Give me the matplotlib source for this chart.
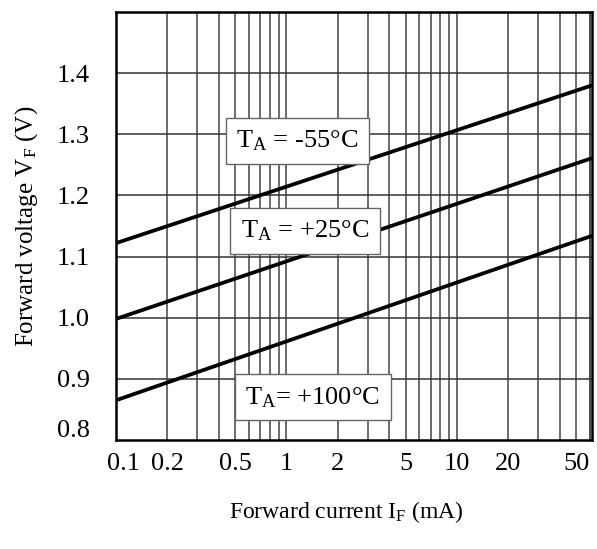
import matplotlib
matplotlib.use("Agg")
import matplotlib.pyplot as plt
import matplotlib.transforms as mtransforms
import numpy as np

plt.rcParams['font.family'] = ['Liberation Serif', 'DejaVu Serif']
plt.rcParams['mathtext.fontset'] = 'custom'
plt.rcParams['mathtext.rm'] = 'Liberation Serif'
plt.rcParams['mathtext.it'] = 'Liberation Serif:italic'

# Data
current_mA = [0.1, 62]
vf_m55 = [1.122, 1.380]
vf_p25 = [0.998, 1.261]
vf_p100 = [0.865, 1.134]
labels = ["T$_\\mathrm{A}$ = -55°C", "T$_\\mathrm{A}$ = +25°C", "T$_\\mathrm{A}$= +100°C"]
label_pos = [(0.381, 0.699), (0.397, 0.488), (0.413, 0.100)]
xticks = [0.1, 0.2, 0.5, 1, 2, 5, 10, 20, 50]
xtick_labels = ["0.1", "0.2", "0.5", "1", "2", "5", "10", "20", "50"]
yticks = [0.8, 0.9, 1.0, 1.1, 1.2, 1.3, 1.4]
ytick_labels = ["0.8", "0.9", "1.0", "1.1", "1.2", "1.3", "1.4"]

W, H = 597, 549
fig = plt.figure(figsize=(W / 100, H / 100), dpi=100)
ax = fig.add_axes([116 / W, 1 - 440 / H, (592 - 116) / W, (440 - 12) / H])
ax.set_xscale('log')
ax.set_xlim(0.1, 62)
ax.set_ylim(0.8, 1.5)

# grid lines
grid_x = [m * d for d in (0.1, 1, 10) for m in range(1, 10)] + [60]
for gx in grid_x:
    if 0.1 < gx < 62:
        ax.axvline(gx, color='#444444', lw=1.1, zorder=1)
for gy in yticks[1:]:
    ax.axhline(gy, color='#333333', lw=1.1, zorder=1)

for v in (vf_m55, vf_p25, vf_p100):
    ax.plot(current_mA, v, color='black', lw=2.7, zorder=3, solid_capstyle='butt')

for txt, (fx, fy) in zip(labels, label_pos):
    ax.text(fx, fy, txt, transform=ax.transAxes, ha='center', va='center',
            fontsize=19, zorder=5,
            bbox=dict(boxstyle='square,pad=0.4', fc='white', ec='#666666', lw=1.0))

ax.set_xticks(xticks)
ax.set_xticklabels(xtick_labels)
ax.xaxis.set_minor_locator(matplotlib.ticker.NullLocator())
ax.set_yticks(yticks)
ax.set_yticklabels(ytick_labels)
ax.tick_params(axis='both', length=0, labelsize=19)
ax.tick_params(axis='x', pad=9)
ax.tick_params(axis='y', pad=19)

# shift 0.8 label up and 0.1 label right, as in the reference
lab08 = ax.get_yticklabels()[0]
lab08.set_transform(lab08.get_transform() + mtransforms.ScaledTranslation(0, 12 / 100, fig.dpi_scale_trans))
lab01 = ax.get_xticklabels()[0]
lab01.set_transform(lab01.get_transform() + mtransforms.ScaledTranslation(8 / 100, 0, fig.dpi_scale_trans))

for s in ax.spines.values():
    s.set_linewidth(1.8)
    s.set_color('black')
    s.set_zorder(6)

ax.set_xlabel("Forward current I$_\\mathrm{F}$ (mA)", fontsize=17)
ax.xaxis.set_label_coords((346 - 116) / 476, -(512 - 440) / 428)
ax.xaxis.label.set_va('center')
ax.set_ylabel("Forward voltage V$_\\mathrm{F}$ (V)", fontsize=18, labelpad=12)

fig.savefig("out.png", dpi=100)
